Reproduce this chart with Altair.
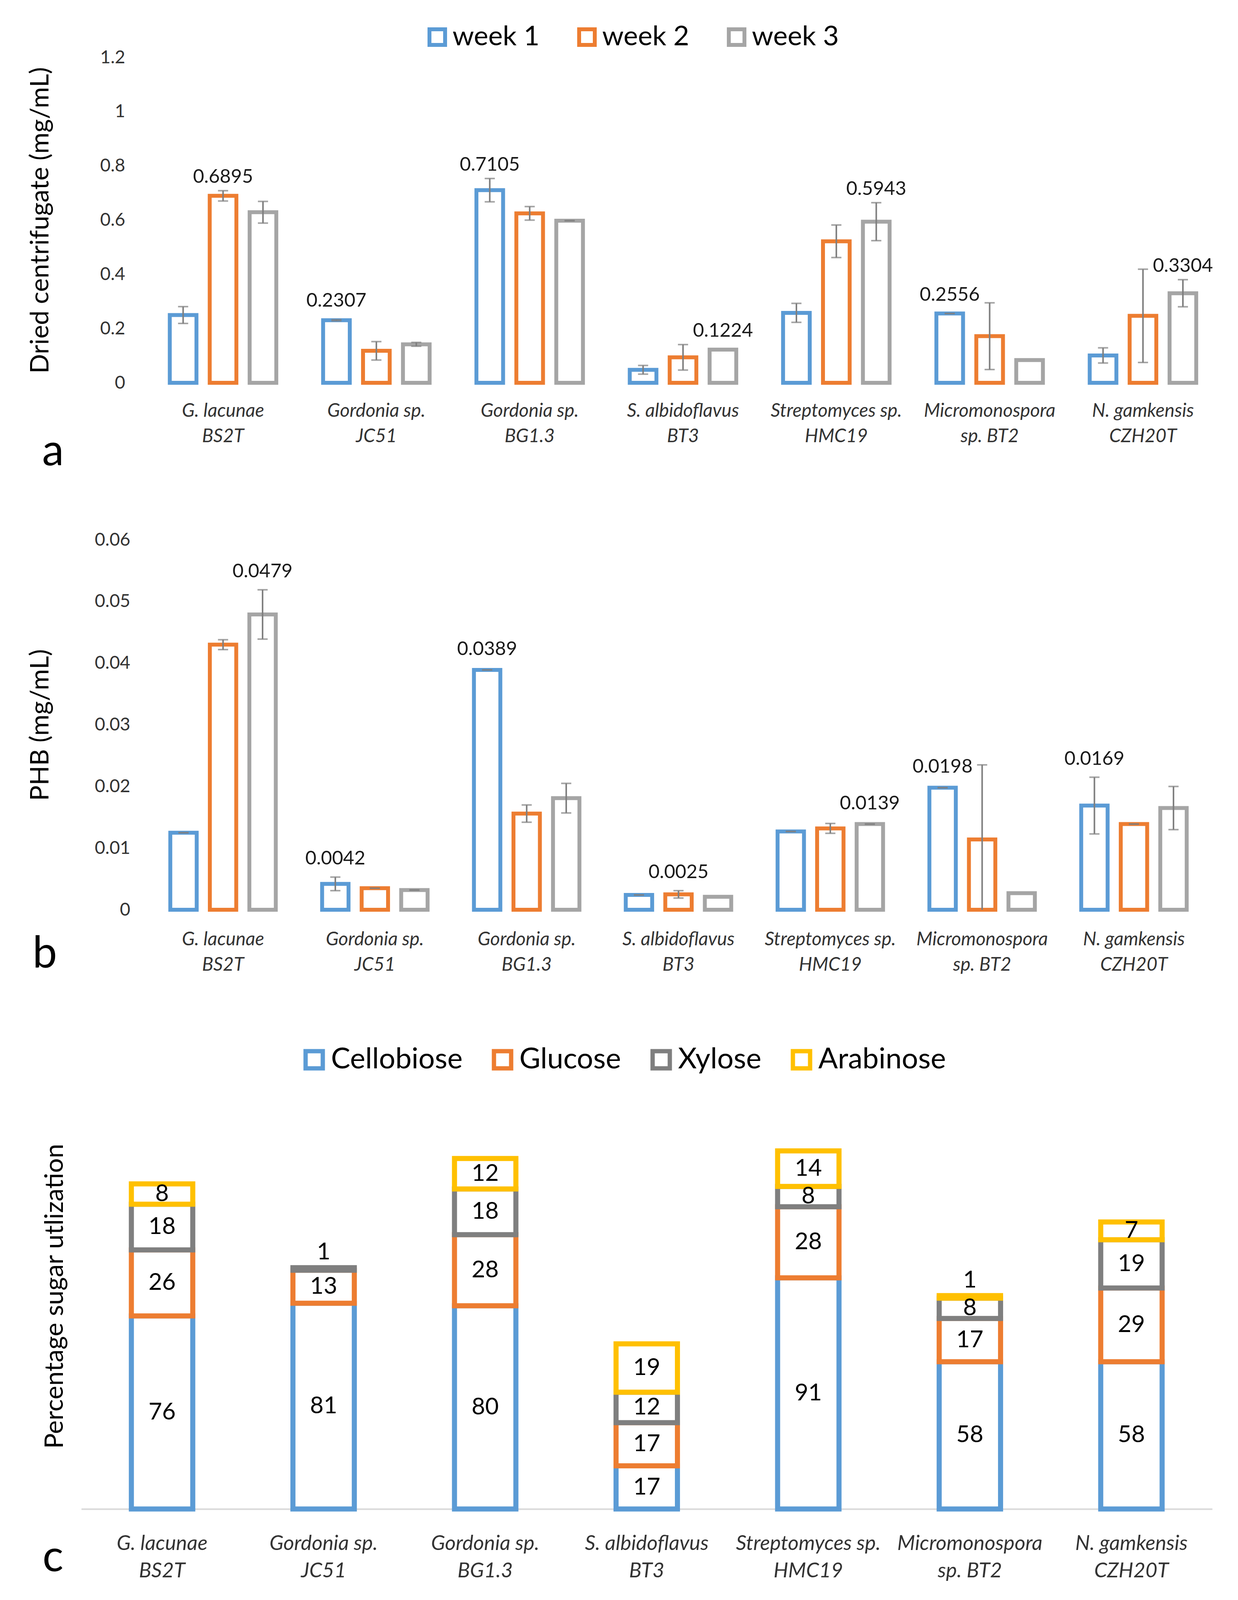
import altair as alt
import pandas as pd

FONT = "Lato"
strains = ["G. lacunae\nBS2T", "Gordonia sp.\nJC51", "Gordonia sp.\nBG1.3",
           "S. albidoflavus\nBT3", "Streptomyces sp.\nHMC19",
           "Micromonospora\nsp. BT2", "N. gamkensis\nCZH20T"]
weeks = ["week 1", "week 2", "week 3"]
week_colors = ["#5B9BD5", "#ED7D31", "#A5A5A5"]

# panel a: dried centrifugate (mg/mL)
dc_w1 = [0.250, 0.2307, 0.7105, 0.048, 0.258, 0.2556, 0.101]
dc_w2 = [0.6895, 0.118, 0.625, 0.094, 0.522, 0.172, 0.247]
dc_w3 = [0.629, 0.142, 0.598, 0.1224, 0.5943, 0.084, 0.3304]
dc_e1 = [0.031, 0.002, 0.043, 0.016, 0.035, 0.0, 0.028]
dc_e2 = [0.019, 0.034, 0.025, 0.047, 0.060, 0.123, 0.172]
dc_e3 = [0.040, 0.007, 0.0, None, 0.070, None, 0.050]
dc_label_week = [2, 1, 1, 3, 3, 1, 3]

# panel b: PHB (mg/mL)
phb_w1 = [0.0125, 0.0042, 0.0389, 0.0024, 0.0127, 0.0198, 0.0169]
phb_w2 = [0.0430, 0.0035, 0.0156, 0.0025, 0.0132, 0.0114, 0.0139]
phb_w3 = [0.0479, 0.0032, 0.0181, 0.0021, 0.0139, 0.0027, 0.0165]
phb_e1 = [0.0, 0.0011, 0.0, 0.0, 0.0, 0.0, 0.0046]
phb_e2 = [0.0008, 0.0, 0.0014, 0.0006, 0.0008, 0.0121, 0.0]
phb_e3 = [0.0040, 0.0, 0.0024, None, 0.0, None, 0.0035]
phb_label_week = [3, 1, 1, 2, 3, 1, 1]

# panel c: percentage sugar utilization
sugars = ["Cellobiose", "Glucose", "Xylose", "Arabinose"]
sugar_colors = ["#5B9BD5", "#ED7D31", "#7F7F7F", "#FFC000"]
cellobiose = [76, 81, 80, 17, 91, 58, 58]
glucose = [26, 13, 28, 17, 28, 17, 29]
xylose = [18, 1, 18, 12, 8, 8, 19]
arabinose = [8, 0, 12, 19, 14, 1, 7]


def week_frame(vals, errs, lab_week, fmt):
    rows = []
    for wi, wk in enumerate(weeks):
        for si, s in enumerate(strains):
            v = vals[wi][si]
            e = errs[wi][si]
            rows.append({"strain": s, "week": wk, "v": v,
                         "e": float("nan") if e is None else e,
                         "lab": 1 if lab_week[si] == wi + 1 else 0,
                         "txt": format(v, fmt)})
    return pd.DataFrame(rows)


dfa = week_frame([dc_w1, dc_w2, dc_w3], [dc_e1, dc_e2, dc_e3], dc_label_week, ".4f")
dfb = week_frame([phb_w1, phb_w2, phb_w3], [phb_e1, phb_e2, phb_e3], phb_label_week, ".4f")

crow = []
for oi, (sg, arr) in enumerate(zip(sugars, [cellobiose, glucose, xylose, arabinose])):
    for si, s in enumerate(strains):
        crow.append({"strain": s, "sugar": sg, "val": arr[si], "order": oi})
dfc = pd.DataFrame(crow)

ERR = "#7F7F7F"
LBL = "#333333"
W = 2894


def week_panel(df, xrange, ydomain, yticks, height, ytitle, ytitle_x, yoffset,
               letter, letter_x, letter_y, legend, lab_pad, dy_err, dy_noerr, thr):
    xenc = alt.X("strain:N", sort=strains,
                 scale=alt.Scale(range=xrange, paddingInner=0, paddingOuter=0),
                 axis=alt.Axis(title=letter, titleFontSize=112, titleFontWeight="normal",
                               titleX=letter_x, titleY=letter_y, titleAlign="center",
                               titleBaseline="alphabetic", titleColor="black",
                               labelExpr="split(datum.value, '\\n')", labelAngle=0,
                               labelFontSize=48, labelFontStyle="italic", labelLineHeight=65,
                               labelColor=LBL, labelPadding=lab_pad, labelLimit=0,
                               domain=False, ticks=False, tickSize=0, labelFont=FONT))
    xo = alt.XOffset("week:N", sort=weeks,
                     scale=alt.Scale(paddingInner=0.332, paddingOuter=0.586))
    yenc = alt.Y("v:Q", scale=alt.Scale(domain=ydomain, nice=False, zero=True),
                 axis=alt.Axis(values=yticks, format="~g", domain=False, ticks=False,
                               tickSize=0, grid=False, labelPadding=0, offset=yoffset,
                               labelFontSize=46, labelColor=LBL, labelFont=FONT,
                               title=ytitle, titleFontSize=66, titleFontWeight="normal",
                               titleX=ytitle_x, titleY=height / 2, titleAlign="center",
                               titleBaseline="middle", titleAngle=-90, titleColor="black",
                               titleFont=FONT))
    stroke = alt.Stroke("week:N", sort=weeks,
                        scale=alt.Scale(domain=weeks, range=week_colors),
                        legend=legend)
    base = alt.Chart(df).transform_calculate(
        hi="datum.v + (isValid(datum.e) ? datum.e : 0)",
        lo="max(0, datum.v - (isValid(datum.e) ? datum.e : 0))",
    )
    bars = base.mark_bar(fill="white", strokeWidth=10).encode(
        x=xenc, xOffset=xo, y=yenc, stroke=stroke)
    errd = base.transform_filter("isValid(datum.e)")
    rule = errd.mark_rule(color=ERR, strokeWidth=4).encode(
        x=xenc, xOffset=xo, y="lo:Q", y2="hi:Q")
    cap_hi = errd.mark_tick(color=ERR, thickness=4, size=26).encode(
        x=xenc, xOffset=xo, y="hi:Q")
    cap_lo = errd.transform_filter("datum.v - datum.e >= 0").mark_tick(
        color=ERR, thickness=4, size=26).encode(x=xenc, xOffset=xo, y="lo:Q")
    lab = base.transform_filter("datum.lab == 1")
    txt_e = lab.transform_filter(f"isValid(datum.e) && datum.e > {thr}").mark_text(
        baseline="bottom", dy=dy_err, fontSize=49, color="#1a1a1a", font=FONT).encode(
        x=xenc, xOffset=xo, y="hi:Q", text="txt:N")
    txt_n = lab.transform_filter(f"!isValid(datum.e) || datum.e <= {thr}").mark_text(
        baseline="bottom", dy=dy_noerr, fontSize=49, color="#1a1a1a", font=FONT).encode(
        x=xenc, xOffset=xo, y="hi:Q", text="txt:N")
    return alt.layer(bars, rule, cap_hi, cap_lo, txt_e, txt_n).properties(
        width=W, height=height)


legend_a = alt.Legend(orient="none", legendX=876, legendY=-87, direction="horizontal",
                      title=None, symbolType="square", symbolSize=1600,
                      symbolStrokeWidth=10, symbolFillColor="white", labelFontSize=70,
                      labelOffset=4, columnPadding=81, padding=0, labelColor="black",
                      labelFont=FONT, labelLimit=0)

panel_a = week_panel(dfa, [166.6, 2913], [0, 1.2], [0, 0.2, 0.4, 0.6, 0.8, 1.0, 1.2],
                     833, "Dried centrifugate (mg/mL)", -217, -112,
                     "a", -73, 210, legend_a, 48, -10, -23, 0.005)
panel_b = week_panel(dfb, [168.5, 2888], [0, 0.06], [0, 0.01, 0.02, 0.03, 0.04, 0.05, 0.06],
                     947, "PHB (mg/mL)", -230, -125,
                     "b", -94, 147, None, 52, -22, -28, 0.0002)

# panel c
xc = alt.X("strain:N", sort=strains,
           scale=alt.Scale(paddingInner=0.62, paddingOuter=0.31),
           axis=alt.Axis(title="c", titleFontSize=112, titleFontWeight="normal",
                         titleX=-73, titleY=158, titleAlign="center",
                         titleBaseline="alphabetic", titleColor="black",
                         labelExpr="split(datum.value, '\\n')", labelAngle=0,
                         labelFontSize=53, labelFontStyle="italic", labelLineHeight=70,
                         labelColor=LBL, labelPadding=62, labelLimit=0, domain=True,
                         domainColor="#D9D9D9", domainWidth=4, ticks=False, tickSize=0,
                         labelFont=FONT))
legend_c = alt.Legend(orient="none", legendX=559, legendY=-55, direction="horizontal",
                      title=None, symbolType="square", symbolSize=1936,
                      symbolStrokeWidth=11, symbolFillColor="white", labelFontSize=74,
                      labelOffset=6, columnPadding=58, padding=0, labelColor="black",
                      labelFont=FONT, labelLimit=0)
cbase = alt.Chart(dfc).transform_filter("datum.val > 0").transform_stack(
    stack="val", groupby=["strain"], as_=["y0", "y1"],
    sort=[alt.SortField("order", order="ascending")]
).transform_calculate(ym="(datum.y0 + datum.y1) / 2")
yc = alt.Y("y0:Q", scale=alt.Scale(domain=[0, 174.1], nice=False),
           axis=alt.Axis(labels=False, ticks=False, domain=False, grid=False,
                         title="Percentage sugar utlization", titleFontSize=66,
                         titleFontWeight="normal", titleX=-68, titleY=587,
                         titleAlign="center", titleBaseline="middle", titleAngle=-90,
                         titleColor="black", titleFont=FONT))
bars_c = cbase.mark_bar(fill="white", strokeWidth=13).encode(
    x=xc, y=yc, y2="y1:Q",
    stroke=alt.Stroke("sugar:N", sort=sugars,
                      scale=alt.Scale(domain=sugars, range=sugar_colors),
                      legend=legend_c))
txt_mid = cbase.transform_filter("datum.val > 1").mark_text(
    fontSize=60, baseline="middle", color="black", font=FONT).encode(
    x=xc, y="ym:Q", text="val:Q")
txt_top = cbase.transform_filter("datum.val <= 1").mark_text(
    fontSize=60, baseline="bottom", dy=-8, color="black", font=FONT).encode(
    x=xc, y="y1:Q", text="val:Q")
panel_c = alt.layer(bars_c, txt_mid, txt_top).properties(width=W, height=1132)

chart = alt.vconcat(panel_a, panel_b, panel_c, spacing=402, bounds="flush").resolve_scale(
    x="independent", y="independent", stroke="independent", xOffset="independent"
).properties(
    padding={"left": 61, "top": 52, "right": 20, "bottom": 20}
).configure(font=FONT, background="white").configure_view(stroke=None)

chart.save("out.html", embed_options={"renderer": "svg", "actions": False})
